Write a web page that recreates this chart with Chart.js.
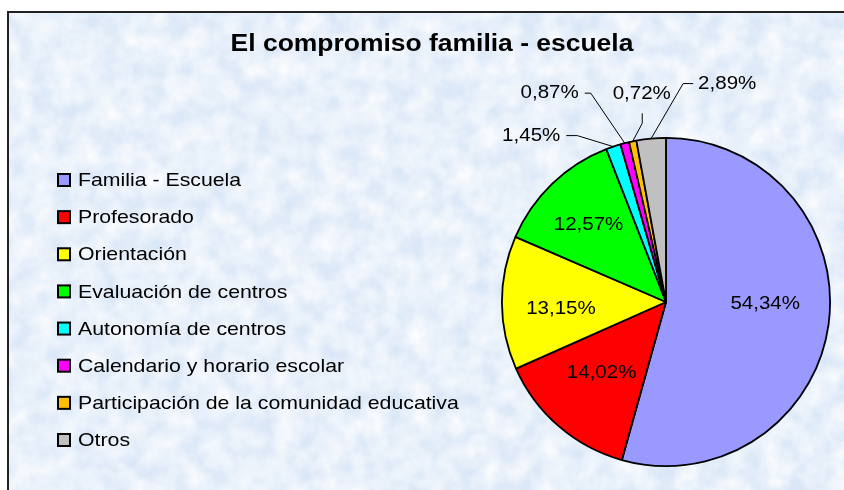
<!DOCTYPE html>
<html>
<head>
<meta charset="utf-8">
<script src="https://cdn.jsdelivr.net/npm/chart.js@4.4.1/dist/chart.umd.min.js"></script>
<style>
  html, body { margin: 0; padding: 0; width: 844px; height: 490px; overflow: hidden; background: #fff; }
  #frame {
    position: absolute; left: 7px; top: 11px; width: 837px; height: 479px;
    border-top: 2px solid #222; border-left: 2px solid #222;
    background-color: #dae7f7;
    background-image: url("data:image/svg+xml;utf8,<svg xmlns='http://www.w3.org/2000/svg' width='837' height='479'><filter id='n'><feTurbulence type='fractalNoise' baseFrequency='0.045' numOctaves='3' seed='7'/><feColorMatrix values='0 0 0 0 1  0 0 0 0 1  0 0 0 0 1  0 0 0 1.3 -0.25'/></filter><rect width='100%' height='100%' filter='url(%23n)'/></svg>");
    background-repeat: no-repeat;
  }
  #chart { position: absolute; left: 0; top: 0; }
</style>
</head>
<body>
<div id="frame"></div>
<canvas id="chart" width="844" height="490"></canvas>
<script>
const chartTitle = 'El compromiso familia - escuela';
const categories = [
    'Familia - Escuela',
    'Profesorado',
    'Orientación',
    'Evaluación de centros',
    'Autonomía de centros',
    'Calendario y horario escolar',
    'Participación de la comunidad educativa',
    'Otros'
];
const values = [54.34, 14.02, 13.15, 12.57, 1.45, 0.87, 0.72, 2.89];
const sliceColors = ['#9999FF', '#FF0000', '#FFFF00', '#00FF00', '#00FFFF', '#FF00FF', '#FFC000', '#C0C0C0'];

const FONT = 'Arial, "Liberation Sans", sans-serif';

// the original text is a bit wide, stretch it horizontally
function wideText(ctx, txt, x, y, sx) {
    ctx.save();
    ctx.translate(x, y);
    ctx.scale(sx, 1);
    ctx.fillText(txt, 0, 0);
    ctx.restore();
}

// label placement for the big slices (fraction of radius + small nudge)
const innerFactor = [0.61, 0.6, 0.64, 0.68];
const innerNudgeY = [-12, -4, 6, 3];
// leader lines for the thin slices, offsets from the slice edge
const leaders = {
    4: { elbow: [-36, -11], end: [-47, -11], text: [-53, -11], align: 'right' },
    5: { elbow: [-34, -50], end: [-40, -50], text: [-46, -50], align: 'right' },
    6: { elbow: [9.5, -18], end: [9.5, -28], text: [9, -48], align: 'center' },
    7: { elbow: [32, -55], end: [42, -55], text: [47, -55], align: 'left' }
};

const fmt = v => v.toFixed(2).replace('.', ',') + '%';

// Title + legend drawn on the canvas
const sideStuff = {
    id: 'sideStuff',
    afterDraw(chart) {
        const ctx = chart.ctx;
        ctx.save();
        ctx.fillStyle = '#000';
        ctx.textBaseline = 'middle';
        ctx.textAlign = 'center';
        ctx.font = 'bold 23px ' + FONT;
        wideText(ctx, chartTitle, 432, 45, 1.15);

        ctx.font = '18.5px ' + FONT;
        ctx.textAlign = 'left';
        categories.forEach((label, i) => {
            const y = 180 + i * 37.14;
            ctx.fillStyle = sliceColors[i];
            ctx.fillRect(58, y - 6, 12, 12);
            ctx.strokeStyle = '#000';
            ctx.lineWidth = 2;
            ctx.strokeRect(58, y - 6, 12, 12);
            ctx.fillStyle = '#000';
            wideText(ctx, label, 78, y + 1, 1.15);
        });
        ctx.restore();
    }
};

// Percentage labels
const pctLabels = {
    id: 'pctLabels',
    afterDatasetsDraw(chart) {
        const ctx = chart.ctx;
        const arcs = chart.getDatasetMeta(0).data;
        ctx.save();
        ctx.font = '19px ' + FONT;
        ctx.fillStyle = '#000';
        ctx.strokeStyle = '#000';
        ctx.lineWidth = 1;
        ctx.textBaseline = 'middle';
        arcs.forEach((arc, i) => {
            const p = arc.getProps(['x', 'y', 'startAngle', 'endAngle', 'outerRadius'], true);
            const mid = (p.startAngle + p.endAngle) / 2;
            const txt = fmt(values[i]);
            const lead = leaders[i];
            if (!lead) {
                const r = p.outerRadius * innerFactor[i];
                ctx.textAlign = 'center';
                wideText(ctx, txt, p.x + Math.cos(mid) * r, p.y + Math.sin(mid) * r + innerNudgeY[i], 1.08);
                return;
            }
            const ex = p.x + Math.cos(mid) * p.outerRadius;
            const ey = p.y + Math.sin(mid) * p.outerRadius;
            ctx.beginPath();
            ctx.moveTo(ex, ey);
            ctx.lineTo(ex + lead.elbow[0], ey + lead.elbow[1]);
            ctx.lineTo(ex + lead.end[0], ey + lead.end[1]);
            ctx.stroke();
            ctx.textAlign = lead.align;
            wideText(ctx, txt, ex + lead.text[0], ey + lead.text[1], 1.08);
        });
        ctx.restore();
    }
};

new Chart(document.getElementById('chart'), {
    type: 'pie',
    data: {
        labels: categories,
        datasets: [{
            data: values,
            backgroundColor: sliceColors,
            borderColor: '#000',
            borderWidth: 1.8
        }]
    },
    options: {
        responsive: false,
        animation: false,
        events: [],
        layout: { padding: { left: 501, right: 13, top: 137, bottom: 23 } },
        plugins: {
            legend: { display: false },
            title: { display: false },
            tooltip: { enabled: false }
        }
    },
    plugins: [pctLabels, sideStuff]
});
</script>
</body>
</html>
